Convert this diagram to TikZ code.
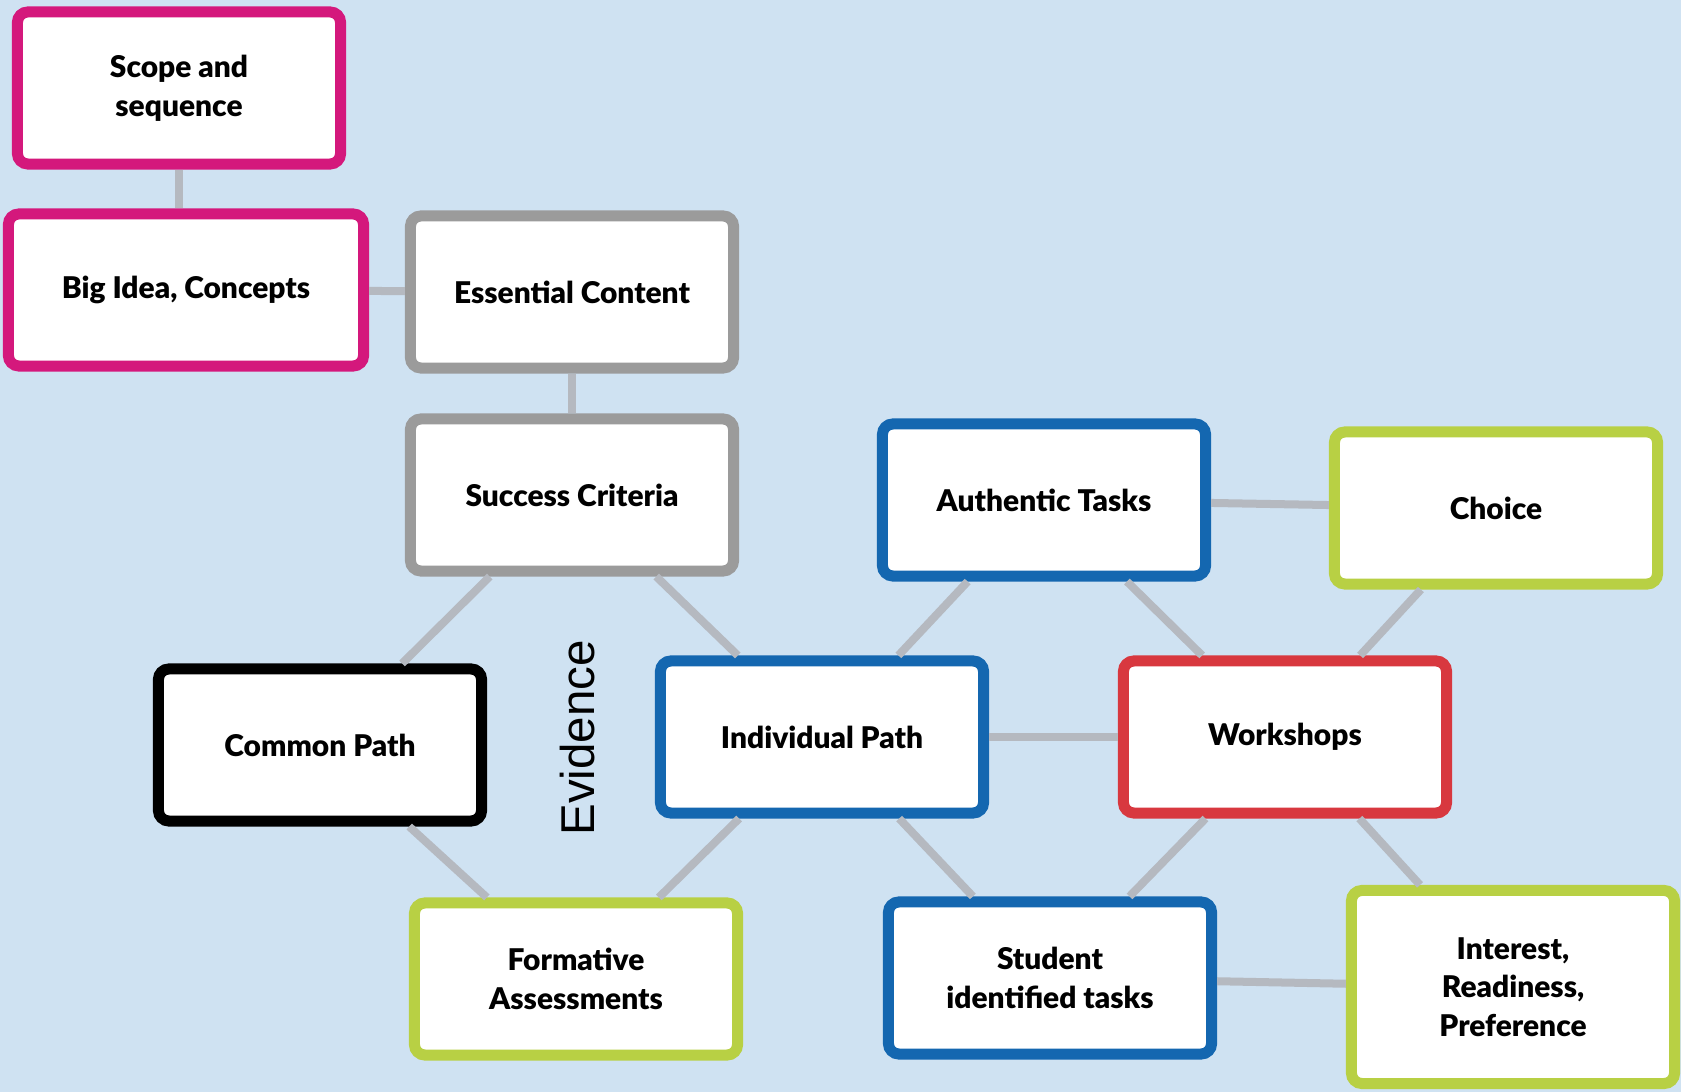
\documentclass[tikz,border=0pt]{standalone}
\usepackage{fontspec}
\setmainfont{Lato}[BoldFont={* Black}]
\newfontfamily\evidencefont{Liberation Sans}

\definecolor{paleblue}{HTML}{CFE2F2}
\definecolor{magentaline}{HTML}{D4187C}
\definecolor{greyline}{HTML}{9B9B9B}
\definecolor{blueline}{HTML}{1467B0}
\definecolor{greenline}{HTML}{B8D044}
\definecolor{redline}{HTML}{D8383F}
\definecolor{linkgrey}{HTML}{B5B9C0}

\begin{document}
\begin{tikzpicture}[x=0.01cm, y=-0.01cm,
  main node/.style={draw, fill=white, rounded corners=3pt, line width=0.11cm,
    minimum width=3.23cm, minimum height=1.52cm, inner sep=2pt, align=center,
    font=\fontsize{8.5}{11}\selectfont\bfseries},
  pink node/.style={main node, draw=magentaline},
  grey node/.style={main node, draw=greyline},
  blue node/.style={main node, draw=blueline},
  green node/.style={main node, draw=greenline},
  red node/.style={main node, draw=redline},
  black node/.style={main node, draw=black},
  link/.style={draw=linkgrey, line width=0.08cm}]

  \useasboundingbox (0,0) rectangle (1681,1092);
  \fill[paleblue] (0,0) rectangle (1681,1092);

  \node[pink node] (1) at (179,88) {Scope and\\sequence};
  \node[pink node, minimum width=3.55cm] (2) at (186,290) {Big Idea, Concepts};
  \node[grey node] (3) at (572,292) {Essential Content};
  \node[grey node] (4) at (572,495) {Success Criteria};
  \node[black node] (5) at (320,745) {Common Path};
  \node[blue node] (6) at (822,737) {Individual Path};
  \node[green node] (7) at (576,979) {Formative\\Assessments};
  \node[blue node] (8) at (1044,500) {Authentic Tasks};
  \node[green node] (9) at (1496,508) {Choice};
  \node[red node] (10) at (1285,737) {Workshops};
  \node[blue node] (11) at (1050,978) {Student\\identified tasks};
  \node[green node, minimum height=1.93cm] (12) at (1513,987) {Interest,\\Readiness,\\Preference};

  \node[rotate=90, font=\evidencefont\fontsize{13.5}{16}\selectfont] (ev) at (578,738) {Evidence};

  \draw[link] (1) -- (1.south |- 2.north);
  \draw[link] (2) -- (3);
  \draw[link] (3) -- (4);

  \draw[link] (4) -- (5);
  \draw[link] (4) -- (6);
  \draw[link] (5) -- (7);
  \draw[link] (6) -- (7);

  \draw[link] (6) -- (8);
  \draw[link] (6) -- (10);
  \draw[link] (6) -- (11);
  \draw[link] (8) -- (9);
  \draw[link] (8) -- (10);
  \draw[link] (9) -- (10);
  \draw[link] (10) -- (11);
  \draw[link] (10) -- (12);
  \draw[link] (11) -- (12);
\end{tikzpicture}
\end{document}
